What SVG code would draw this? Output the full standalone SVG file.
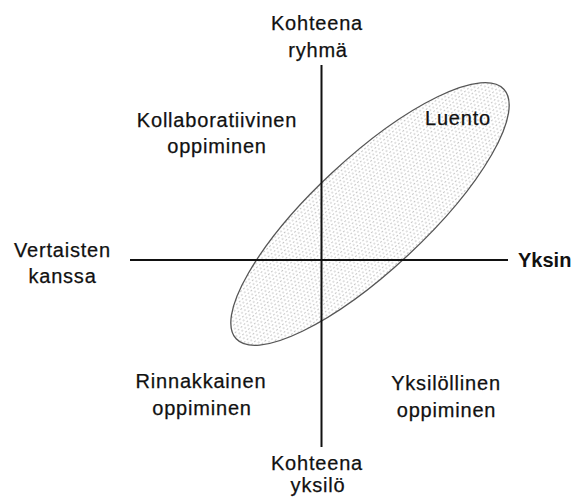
<svg xmlns="http://www.w3.org/2000/svg" width="577" height="502" viewBox="0 0 577 502">
<defs>
<pattern id="dots" width="4" height="6.6" patternUnits="userSpaceOnUse">
<rect x="0.5" y="0.5" width="1" height="1" fill="#8a8a8a"/>
<rect x="2.5" y="3.8" width="1" height="1" fill="#8a8a8a"/>
</pattern>
<style>
.t{font-family:"Liberation Sans",Arial,sans-serif;font-size:20px;fill:#111;stroke:#111;stroke-width:0.25;text-anchor:middle;letter-spacing:0.8px}
.b{font-weight:bold;text-anchor:start;letter-spacing:0;stroke-width:0}
.ax{stroke:#111;stroke-width:2;fill:none}
</style>
</defs>
<rect width="577" height="502" fill="#fff"/>
<g id="ellipse">
<ellipse cx="370" cy="214" rx="183" ry="56" transform="rotate(-43 370 214)" fill="#fff"/>
<ellipse cx="370" cy="214" rx="183" ry="56" transform="rotate(-43 370 214)" fill="url(#dots)" stroke="#555" stroke-width="1.3"/>
</g>
<g id="connectors">
<line class="ax" x1="321.5" y1="65" x2="321.5" y2="447"/>
<line class="ax" x1="130" y1="260" x2="508" y2="260"/>
</g>
<g id="top"><text class="t" x="317" y="30">Kohteena</text><text class="t" x="318" y="57">ryhmä</text></g>
<g id="bottom"><text class="t" x="317" y="470">Kohteena</text><text class="t" x="318" y="492">yksilö</text></g>
<g id="left"><text class="t" x="62.5" y="257">Vertaisten</text><text class="t" x="62.5" y="283">kanssa</text></g>
<g id="right"><text class="t b" x="518" y="267">Yksin</text></g>
<g id="kollab"><text class="t" x="217" y="127">Kollaboratiivinen</text><text class="t" x="217" y="153">oppiminen</text></g>
<g id="luento"><text class="t" x="458" y="125">Luento</text></g>
<g id="rinn"><text class="t" x="201" y="388">Rinnakkainen</text><text class="t" x="202" y="415">oppiminen</text></g>
<g id="yksil"><text class="t" x="446" y="390">Yksilöllinen</text><text class="t" x="446.5" y="416.5">oppiminen</text></g>
</svg>
